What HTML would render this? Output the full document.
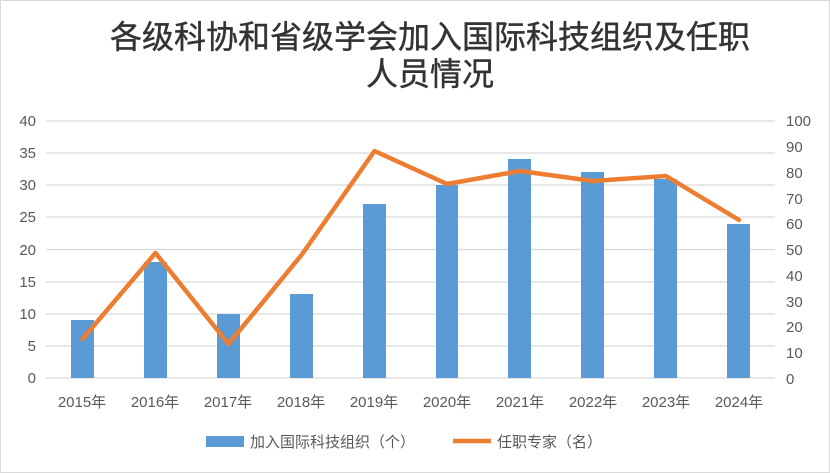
<!DOCTYPE html>
<html><head><meta charset="utf-8"><style>
body{margin:0;background:#fff}
svg{display:block}
text{font-family:"Liberation Sans","Noto Sans CJK SC",sans-serif;fill:#595959}
</style></head><body>
<svg width="830" height="473" viewBox="0 0 830 473">
<rect x="0.5" y="0.5" width="829" height="472" fill="#fff" stroke="#d9d9d9"/>
<text x="430" y="48" font-size="32" text-anchor="middle" style="fill:#333;stroke:#333;stroke-width:0.4">各级科协和省级学会加入国际科技组织及任职</text>
<text x="430" y="85" font-size="32" text-anchor="middle" style="fill:#333;stroke:#333;stroke-width:0.4">人员情况</text>
<g stroke="#d9d9d9" stroke-width="1.3">
<line x1="46" x2="775" y1="121" y2="121"/><line x1="46" x2="775" y1="153" y2="153"/>
<line x1="46" x2="775" y1="185" y2="185"/><line x1="46" x2="775" y1="217" y2="217"/>
<line x1="46" x2="775" y1="249.5" y2="249.5"/><line x1="46" x2="775" y1="282" y2="282"/>
<line x1="46" x2="775" y1="314" y2="314"/><line x1="46" x2="775" y1="346" y2="346"/>
<line x1="46" x2="775" y1="378" y2="378"/>
</g>
<g font-size="15" text-anchor="end">
<text x="36" y="126">40</text><text x="36" y="158">35</text><text x="36" y="190">30</text>
<text x="36" y="222">25</text><text x="36" y="255">20</text><text x="36" y="287">15</text>
<text x="36" y="319">10</text><text x="36" y="351">5</text><text x="36" y="383">0</text>
</g>
<g font-size="15">
<text x="786" y="126">100</text><text x="786" y="152">90</text><text x="786" y="178">80</text>
<text x="786" y="204">70</text><text x="786" y="229">60</text><text x="786" y="255">50</text>
<text x="786" y="281">40</text><text x="786" y="307">30</text><text x="786" y="332">20</text>
<text x="786" y="358">10</text><text x="786" y="384">0</text>
</g>
<g fill="#5b9bd5">
<rect x="71" y="320" width="23" height="58"/>
<rect x="144" y="262" width="23" height="116"/>
<rect x="217" y="314" width="23" height="64"/>
<rect x="290" y="294" width="23" height="84"/>
<rect x="363" y="204" width="23" height="174"/>
<rect x="436" y="185" width="22" height="193"/>
<rect x="508" y="159" width="23" height="219"/>
<rect x="581" y="172" width="23" height="206"/>
<rect x="654" y="179" width="23" height="199"/>
<rect x="727" y="224" width="23" height="154"/>
</g>
<polyline fill="none" stroke="#ed7d31" stroke-width="4.5" stroke-linejoin="round" stroke-linecap="round"
points="82.5,339 155.5,253 228.5,344 301.5,255 374.5,151 447,184 520,171 593,181 666,176 739,220"/>
<g font-size="15" text-anchor="middle">
<text x="82" y="407">2015年</text><text x="155" y="407">2016年</text><text x="228" y="407">2017年</text>
<text x="301" y="407">2018年</text><text x="374" y="407">2019年</text><text x="447" y="407">2020年</text>
<text x="520" y="407">2021年</text><text x="593" y="407">2022年</text><text x="666" y="407">2023年</text>
<text x="739" y="407">2024年</text>
</g>
<rect x="206" y="436" width="38" height="11" fill="#5b9bd5"/>
<text x="250" y="447" font-size="15">加入国际科技组织（个）</text>
<line x1="453" x2="491" y1="441" y2="441" stroke="#ed7d31" stroke-width="4.5"/>
<text x="497" y="447" font-size="15">任职专家（名）</text>
</svg>
</body></html>
